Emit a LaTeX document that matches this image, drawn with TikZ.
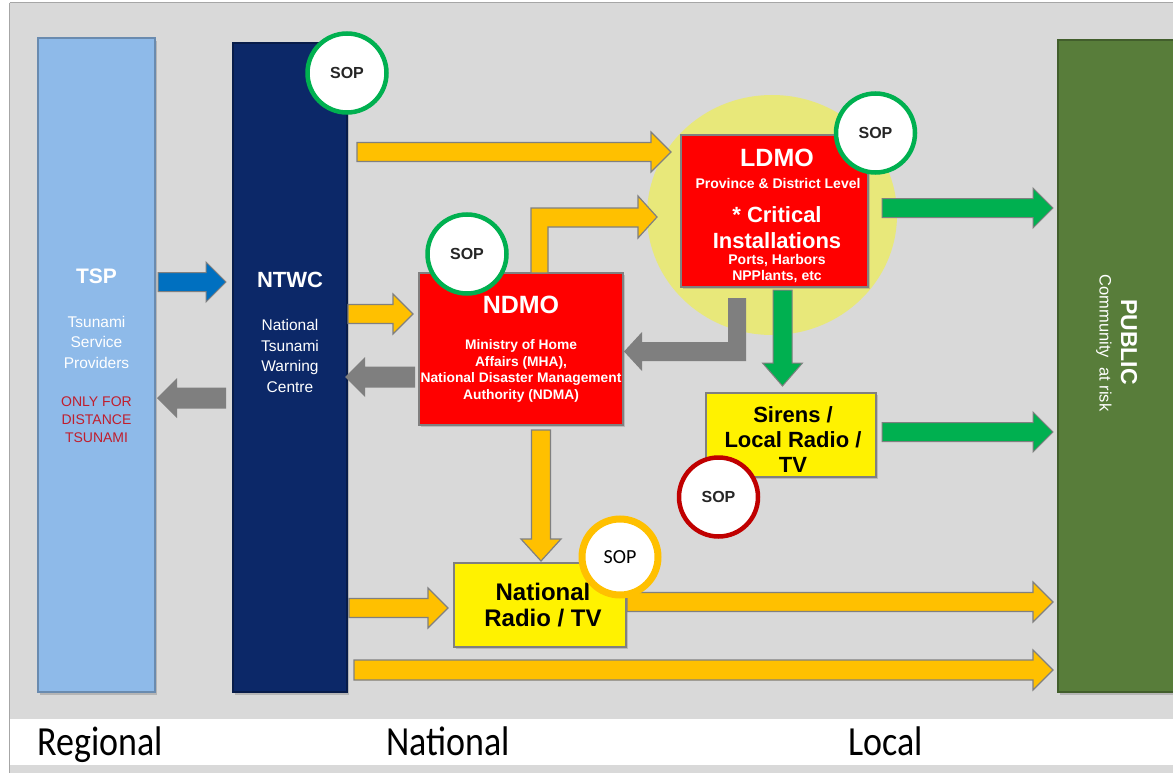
\documentclass[tikz,border=0pt]{standalone}
\usepackage{fontspec}
\setmainfont{Liberation Sans}
\newfontfamily\calibri{Carlito}
\usetikzlibrary{calc,shadows,shapes.geometric}

\definecolor{bgcol}{RGB}{217,217,217}
\definecolor{tspblue}{RGB}{142,186,233}
\definecolor{navy}{RGB}{12,40,104}
\definecolor{pubgreen}{RGB}{88,125,58}
\definecolor{zone}{RGB}{232,232,122}
\definecolor{ayellow}{RGB}{255,192,0}
\definecolor{agreen}{RGB}{0,176,80}
\definecolor{agray}{RGB}{127,127,127}
\definecolor{ablue}{RGB}{0,112,192}
\definecolor{redtxt}{RGB}{192,30,45}
\definecolor{sopred}{RGB}{192,0,0}
\definecolor{soptxt}{RGB}{38,38,38}
\definecolor{boxline}{RGB}{128,128,128}

\newcommand\fs[2]{\fontsize{#1}{#2}\selectfont}
\def\bsw{9.5pt}\def\bhw{20pt}\def\bhl{20pt}
\newcommand\blockarr[3]{%
  \path ($(#3)!\bhl!(#2)$) coordinate (bahd);
  \filldraw[#1] ($(#2)!\bsw!90:(#3)$) -- ($(bahd)!\bsw!90:(#3)$) -- ($(bahd)!\bhw!90:(#3)$) -- (#3) -- ($(bahd)!\bhw!-90:(#3)$) -- ($(bahd)!\bsw!-90:(#3)$) -- ($(#2)!\bsw!-90:(#3)$) -- cycle;}

\begin{document}
\begin{tikzpicture}[x=1pt,y=-1pt,
  column/.style={rectangle, inner sep=0, line width=1.5pt, drop shadow={opacity=0.4, shadow xshift=2pt, shadow yshift=-3pt}},
  redbox/.style={rectangle, inner sep=0, fill=red, draw=boxline, line width=1.5pt, drop shadow={opacity=0.35, shadow xshift=2pt, shadow yshift=-2pt}},
  yelbox/.style={rectangle, inner sep=0, fill=yellow, draw=boxline, line width=1.2pt, drop shadow={opacity=0.35, shadow xshift=2pt, shadow yshift=-2pt}},
  wtxt/.style={inner sep=0, align=center, text=white},
  btxt/.style={inner sep=0, align=center, text=black},
  sop/.style={circle, fill=white, inner sep=0, minimum size=79pt, line width=4.5pt, text=soptxt, font=\bfseries\fs{16}{18}},
  yarr/.style={fill=ayellow, draw=boxline, line width=1.2pt, line join=miter},
  garr/.style={fill=agreen, draw=boxline, line width=1pt, line join=miter},
  grarr/.style={fill=agray, draw=none},
  barr/.style={fill=ablue, draw=boxline, line width=1pt, line join=miter},
  level/.style={inner sep=0, anchor=base west, font=\calibri\fs{36}{40}}
]
\useasboundingbox (0,0) rectangle (1173,773);
% background
\fill[white] (0,0) rectangle (1173,773);
\fill[bgcol] (10,3) rectangle (1173,773);
\draw[gray!70, line width=0.8pt] (9.5,3) -- (9.5,773);
\draw[gray!70, line width=0.8pt] (9.5,2.5) -- (1173,2.5);
\fill[white] (10,719) rectangle (1173,765);

% zone ellipse
\node[ellipse, fill=zone, minimum width=250pt, minimum height=240pt, inner sep=0] (zone) at (772,215) {};

% columns
\node[column, fill=tspblue, draw=tspblue!75!black, minimum width=117pt, minimum height=654pt] (tsp) at (96.5,365) {};
\node[column, fill=navy, draw=navy!70!black, minimum width=114pt, minimum height=649pt] (ntwc) at (290,367.5) {};
\node[column, fill=pubgreen, draw=pubgreen!75!black, minimum width=118pt, minimum height=652pt] (public) at (1117,366) {};

% column texts
\node[wtxt, font=\bfseries\fs{21}{24}] (tsptitle) at (96.5,276) {TSP};
\node[wtxt, font=\fs{15.5}{20.5}] (tspsub) at (96.5,342) {Tsunami\\Service\\Providers};
\node[wtxt, text=redtxt, font=\fs{14}{18}] (tspnote) at (96.5,420) {ONLY FOR\\DISTANCE\\TSUNAMI};
\node[wtxt, font=\bfseries\fs{22}{24}] (ntwctitle) at (290,280) {NTWC};
\node[wtxt, font=\fs{15.5}{20.7}] (ntwcsub) at (290,356) {National\\Tsunami\\Warning\\Centre};
\node[wtxt, rotate=-90, font=\bfseries\fs{23}{25}] (pubtitle) at (1129,342) {PUBLIC};
\node[wtxt, rotate=-90, font=\fs{16.5}{18}] (pubsub) at (1104,343) {Community~ at risk};

% boxes
\node[redbox, minimum width=204pt, minimum height=152pt] (ndmo) at (521,349) {};
\node[wtxt, font=\bfseries\fs{25}{28}] (ndmotitle) at (521,305) {NDMO};
\node[wtxt, font=\bfseries\fs{13.8}{16.8}] (ndmosub) at (521,371) {Ministry of Home\\Affairs (MHA),\\National Disaster Management\\Authority (NDMA)};

\node[redbox, minimum width=187pt, minimum height=152pt] (ldmo) at (774.5,211) {};
\node[wtxt, font=\bfseries\fs{25}{28}] (ldmotitle) at (777,158) {LDMO};
\node[wtxt, font=\bfseries\fs{14}{16}] (ldmolevel) at (778,183) {Province \& District Level};
\node[wtxt, font=\bfseries\fs{22}{26}] (ldmocrit) at (777,228) {* Critical\\Installations};
\node[wtxt, font=\bfseries\fs{14}{15.5}] (ldmoports) at (777,268.5) {Ports, Harbors\\NPPlants, etc};

\node[yelbox, minimum width=170pt, minimum height=84pt] (sirens) at (791,435) {};
\node[btxt, font=\bfseries\fs{22}{25}] (sirenstxt) at (793,440) {Sirens /\\Local Radio /\\TV};

\node[yelbox, minimum width=172pt, minimum height=84pt] (radio) at (540,605) {};
\node[btxt, font=\bfseries\fs{24}{26}] (radiotxt) at (543,605) {National\\Radio / TV};

% straight block arrows
\coordinate (a1s) at (158,282);  \coordinate (a1e) at (226,282);
\coordinate (a2s) at (226,398);  \coordinate (a2e) at (157,398);
\coordinate (a3s) at (357,152);  \coordinate (a3e) at (671,152);
\coordinate (a4s) at (348,314);  \coordinate (a4e) at (413,314);
\coordinate (a5s) at (415,377);  \coordinate (a5e) at (345,377);
\coordinate (a6s) at (882,208);  \coordinate (a6e) at (1053,208);
\coordinate (a7s) at (782.5,290); \coordinate (a7e) at (782.5,386);
\coordinate (a8s) at (882,432);  \coordinate (a8e) at (1053,432);
\coordinate (a9s) at (541,430);  \coordinate (a9e) at (541,561);
\coordinate (a10s) at (349,608); \coordinate (a10e) at (448,608);
\coordinate (a11s) at (627,602); \coordinate (a11e) at (1053,602);
\coordinate (a12s) at (354,670); \coordinate (a12e) at (1053,670);

\blockarr{barr}{a1s}{a1e}
\def\bsw{10.5pt}
\blockarr{grarr}{a2s}{a2e}
\blockarr{grarr}{a5s}{a5e}
\def\bsw{9.5pt}
\blockarr{yarr}{a3s}{a3e}
\blockarr{yarr}{a4s}{a4e}
\blockarr{garr}{a6s}{a6e}
\def\bhl{23pt}
\blockarr{garr}{a7s}{a7e}
\def\bhl{22pt}
\blockarr{yarr}{a9s}{a9e}
\def\bhl{20pt}
\blockarr{garr}{a8s}{a8e}
\blockarr{yarr}{a10s}{a10e}
\blockarr{yarr}{a11s}{a11e}
\def\bsw{10pt}
\blockarr{yarr}{a12s}{a12e}

% bent arrows
\coordinate (b1s) at (539.5,273);
\coordinate (b1e) at (657,217);
\filldraw[yarr] (531,273) -- (531,208) -- (638,208) -- (638,196) -- (b1e) -- (638,238) -- (638,227) -- (548,227) -- (548,273) -- cycle;
\coordinate (b2s) at (737,298);
\coordinate (b2e) at (624,351.5);
\fill[agray] (728,298) -- (746,298) -- (746,361) -- (642,361) -- (642,371) -- (b2e) -- (642,332) -- (642,342) -- (728,342) -- cycle;

% SOP circles
\node[sop, draw=agreen] (sop1) at (347,73) {SOP};
\node[sop, draw=agreen] (sop2) at (875.5,133) {SOP};
\node[sop, draw=agreen] (sop3) at (467,254) {SOP};
\node[sop, draw=sopred] (sop4) at (718.5,497) {SOP};
\node[sop, draw=ayellow, line width=7pt, minimum size=76pt, text=black, font=\calibri\fs{20}{22}] (sop5) at (620,557) {SOP};

% level labels
\node[level] (lreg) at (37,755) {\scalebox{1}[1.15]{Regional}};
\node[level] (lnat) at (386,755) {\scalebox{1}[1.15]{National}};
\node[level] (lloc) at (848,755) {\scalebox{1}[1.15]{Local}};
\end{tikzpicture}
\end{document}
